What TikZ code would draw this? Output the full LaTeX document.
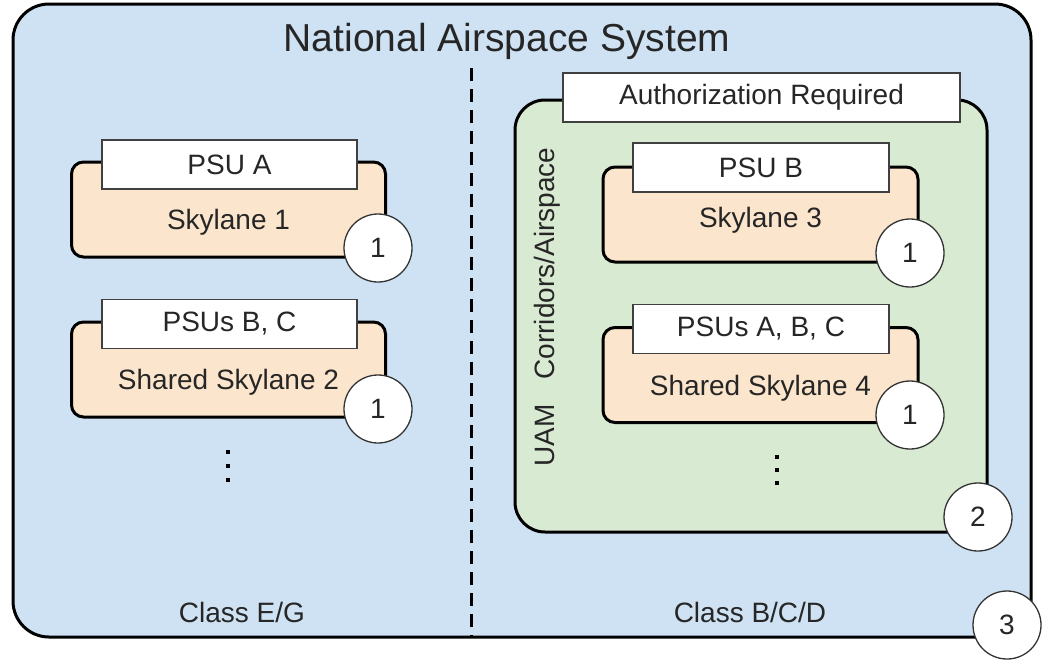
\documentclass[tikz,border=0pt]{standalone}
\usepackage{fontspec}
\setmainfont{Liberation Sans}
\begin{document}
\begin{tikzpicture}[x=1pt,y=-1pt,
  txt/.style={font=\fontsize{28}{32}\selectfont, text=black!85, inner sep=0pt},
  outerbox/.style={draw=black, line width=3pt, fill=blueF, rounded corners=36pt, minimum width=1018pt, minimum height=633pt, inner sep=0pt},
  greenbox/.style={draw=black, line width=3pt, fill=greenF, rounded corners=30pt, minimum width=472pt, minimum height=432pt, inner sep=0pt},
  lanebox/.style={draw=black, line width=3pt, fill=orangeF, rounded corners=12pt, minimum width=314pt, minimum height=95pt, inner sep=0pt},
  labelbox/.style={draw=black!75, line width=1.2pt, fill=white, minimum width=255pt, minimum height=49pt, inner sep=0pt, font=\fontsize{28}{32}\selectfont, text=black!85},
  numcirc/.style={circle, draw=black!80, line width=1.3pt, fill=white, minimum size=68pt, inner sep=0pt, font=\fontsize{28}{32}\selectfont, text=black!85},
  dot/.style={fill=black, minimum size=4.5pt, inner sep=0pt, rectangle},
  divider/.style={line width=3pt, dash pattern=on 13pt off 8pt}
]
\definecolor{blueF}{HTML}{CFE2F3}
\definecolor{greenF}{HTML}{D9EAD3}
\definecolor{orangeF}{HTML}{FCE5CD}
\useasboundingbox (0,0) rectangle (1051,659);

% outer box
\node[outerbox] (nas) at (522,320.5) {};
\node[txt, font=\fontsize{39}{44}\selectfont] (title) at (507,41) {National Airspace System};

% divider
\coordinate (dtop) at (471,68);
\coordinate (dbot) at (471,637);
\draw[divider] (dtop) -- (dbot);

% left side
\node[lanebox] (l1) at (228.5,209.5) {};
\node[labelbox] (l1lab) at (229.5,164.5) {PSU A};
\node[txt] (l1t) at (228.5,222) {Skylane 1};
\node[numcirc] (c1) at (378,248) {1};

\node[lanebox] (l2) at (228.5,369.5) {};
\node[labelbox] (l2lab) at (229.5,324) {PSUs B, C};
\node[txt] (l2t) at (228.5,382) {Shared Skylane 2};
\node[numcirc] (c2) at (378,409) {1};

\node[dot] (ld1) at (228,452) {};
\node[dot] (ld2) at (228,466) {};
\node[dot] (ld3) at (228,480) {};

\node[txt] (cleg) at (242,612) {Class E/G};

% right side
\node[greenbox] (uam) at (751,316) {};
\node[labelbox, minimum width=397pt] (auth) at (761.5,97.5) {Authorization Required};
\node[txt, rotate=90] (uamt) at (547,307) {UAM\hspace{0.6em} Corridors/Airspace};

\node[lanebox, minimum width=315pt] (r1) at (760.5,214.5) {};
\node[labelbox, minimum width=256pt] (r1lab) at (761,167.5) {PSU B};
\node[txt] (r1t) at (760.5,220) {Skylane 3};
\node[numcirc] (c3) at (910,253) {1};

\node[lanebox, minimum width=315pt] (r2) at (760.5,375) {};
\node[labelbox, minimum width=256pt] (r2lab) at (761,329) {PSUs A, B, C};
\node[txt] (r2t) at (760.5,388) {Shared Skylane 4};
\node[numcirc] (c4) at (910,415) {1};

\node[dot] (rd1) at (777,457) {};
\node[dot] (rd2) at (777,470) {};
\node[dot] (rd3) at (777,483) {};

\node[numcirc] (c5) at (978,517) {2};

\node[txt] (cbcd) at (750,612) {Class B/C/D};

\node[numcirc] (c6) at (1007,625) {3};
\end{tikzpicture}
\end{document}
